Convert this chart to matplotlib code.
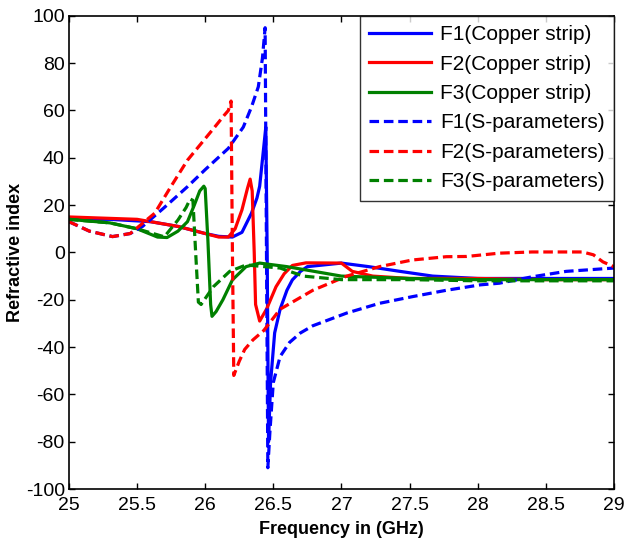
import matplotlib.pyplot as plt

plt.rcParams['font.family'] = ['Liberation Sans', 'DejaVu Sans']
plt.rcParams['axes.unicode_minus'] = False

# F1 - copper strip
f1_cu_x = [25.0, 25.3, 25.6, 25.8, 26.0, 26.1, 26.2, 26.27, 26.34, 26.38, 26.4, 26.43, 26.445,
           26.455, 26.465, 26.48, 26.51, 26.55, 26.6, 26.64, 26.7, 26.75, 27.0, 27.2, 27.43,
           27.67, 28.0, 28.5, 29.0]
f1_cu_y = [14, 14, 13, 11, 8, 6.8, 6.5, 8.5, 16.6, 23, 28, 44.6, 53,
           0, -80, -55, -34, -24, -16, -11.6, -8, -6, -4.5, -6, -8,
           -10, -11, -11, -11]

# F2 - copper strip
f2_cu_x = [25.0, 25.5, 25.8, 26.0, 26.1, 26.17, 26.22, 26.27, 26.31, 26.33, 26.345, 26.36,
           26.37, 26.4, 26.45, 26.52, 26.58, 26.64, 26.74, 27.0, 27.08, 27.23, 27.5, 28.0,
           28.5, 29.0]
f2_cu_y = [15, 14, 11, 8, 6.5, 6.5, 10, 18, 27, 31, 26, 0,
           -22, -29, -24, -14.5, -9, -5.5, -4.4, -4.5, -8, -10, -11, -11,
           -11.5, -11.5]

# F3 - copper strip
f3_cu_x = [25.0, 25.3, 25.5, 25.65, 25.72, 25.8, 25.87, 25.92, 25.96, 25.99, 26.0, 26.02,
           26.04, 26.05, 26.08, 26.13, 26.2, 26.3, 26.4, 26.6, 27.0, 27.5, 28.0, 29.0]
f3_cu_y = [14, 12.5, 10, 6.5, 6.3, 9, 13, 20, 26, 28, 27, 5,
           -22, -27, -25, -20, -11.6, -6, -4.5, -6, -10, -11, -11.5, -11.5]

# F1 - S-parameters
f1_sp_x = [25.0, 25.15, 25.32, 25.45, 25.54, 25.7, 25.87, 26.0, 26.17, 26.28, 26.34, 26.39,
           26.42, 26.44, 26.45, 26.46, 26.475, 26.5, 26.55, 26.62, 26.7, 26.79, 27.04, 27.28,
           27.52, 27.77, 28.02, 28.16, 28.4, 28.65, 29.0]
f1_sp_y = [13, 9, 6.7, 8, 11, 19, 27.8, 35, 44, 53, 61.5, 70,
           82, 95, 0, -91, -76, -55, -44, -38, -34, -31, -25.6, -21.5,
           -18.7, -16, -13.7, -13, -10.3, -8, -6.6]

# F2 - S-parameters
f2_sp_x = [25.0, 25.15, 25.32, 25.45, 25.63, 25.75, 25.87, 25.97, 26.07, 26.14, 26.17, 26.19,
           26.2, 26.21, 26.25, 26.29, 26.35, 26.43, 26.55, 26.79, 27.04, 27.28, 27.52, 27.77,
           27.92, 28.16, 28.4, 28.77, 28.85, 28.92, 29.0]
f2_sp_y = [13, 9, 6.7, 8, 16.6, 28, 39, 46, 53, 58, 60, 64,
           0, -52, -46, -41, -37, -33, -24, -16, -10, -6, -3.2, -1.8,
           -1.7, -0.3, 0.2, 0.2, -1, -4, -6]

# F3 - S-parameters
f3_sp_x = [25.0, 25.3, 25.5, 25.7, 25.8, 25.86, 25.89, 25.91, 25.93, 25.95, 25.97, 26.06,
           26.18, 26.3, 26.55, 26.72, 27.0, 27.5, 28.0, 29.0]
f3_sp_y = [14, 12.5, 10, 6.6, 13.7, 19, 22.6, 22, 0, -21, -22, -14.5,
           -8, -5.3, -6.6, -10, -11.5, -11.5, -12, -12]

xticks = [25, 25.5, 26, 26.5, 27, 27.5, 28, 28.5, 29]
xtick_labels = ['25', '25.5', '26', '26.5', '27', '27.5', '28', '28.5', '29']
yticks = list(range(-100, 101, 20))

fig = plt.figure(figsize=(6.27, 5.47), dpi=100)
ax = fig.add_axes([0.110, 0.106, 0.869, 0.865])

lw = 2.3
dash = (0, (3, 1.5))
ax.plot(f1_cu_x, f1_cu_y, color='#0000ff', lw=lw, label='F1(Copper strip)')
ax.plot(f2_cu_x, f2_cu_y, color='#ff0000', lw=lw, label='F2(Copper strip)')
ax.plot(f3_cu_x, f3_cu_y, color='#008000', lw=lw, label='F3(Copper strip)')
ax.plot(f1_sp_x, f1_sp_y, color='#0000ff', lw=lw, ls=dash, label='F1(S-parameters)')
ax.plot(f2_sp_x, f2_sp_y, color='#ff0000', lw=lw, ls=dash, label='F2(S-parameters)')
ax.plot(f3_sp_x, f3_sp_y, color='#008000', lw=lw, ls=dash, label='F3(S-parameters)')

ax.set_xlim(25, 29)
ax.set_ylim(-100, 100)
ax.set_xticks(xticks)
ax.set_xticklabels(xtick_labels)
ax.set_yticks(yticks)
ax.tick_params(direction='in', top=True, right=True, labelsize=14, length=4, width=1)
ax.tick_params(axis='x', pad=6)
ax.tick_params(axis='y', pad=3)
for s in ax.spines.values():
    s.set_linewidth(1.2)

ax.set_xlabel('Frequency in (GHz)', fontsize=13, fontweight='bold', labelpad=5)
ax.set_ylabel('Refractive index', fontsize=13, fontweight='bold', labelpad=1)

leg = ax.legend(loc='upper right', fontsize=15, frameon=True, fancybox=False,
                edgecolor='black', handlelength=3.0, handletextpad=0.4, borderaxespad=0.0,
                labelspacing=0.5, borderpad=0.45)
leg.get_frame().set_linewidth(1.0)

fig.savefig('out.png', dpi=100)
